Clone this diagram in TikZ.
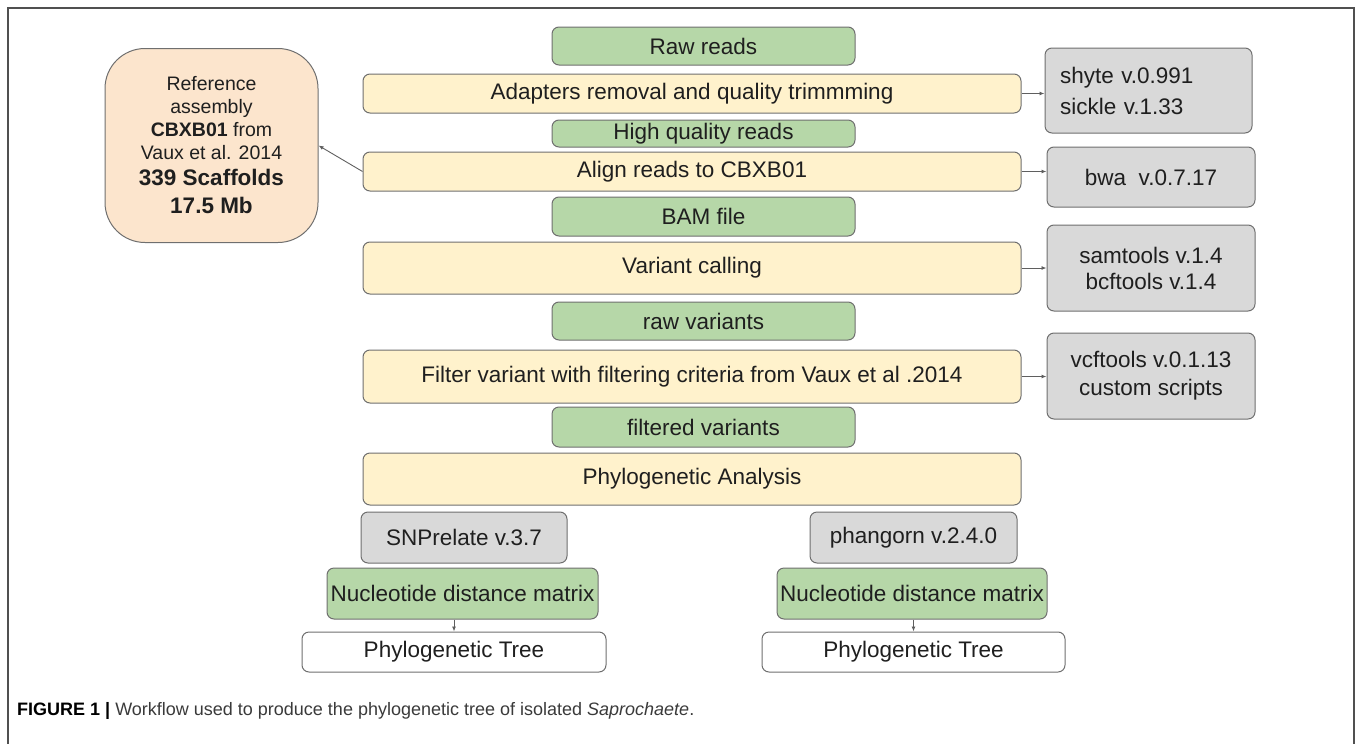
\documentclass[tikz,border=0pt]{standalone}
\usepackage{fontspec}
\setmainfont{Liberation Sans}
\usepackage{xcolor}
\usepackage{tikz}
\usetikzlibrary{arrows.meta}

\definecolor{datagreen}{HTML}{B6D7A8}
\definecolor{stepyellow}{HTML}{FFF2CC}
\definecolor{toolgray}{HTML}{D9D9D9}
\definecolor{refsalmon}{HTML}{FCE5CD}
\definecolor{boxline}{HTML}{6F6F6F}
\definecolor{arrowgray}{HTML}{5F5F5F}
\definecolor{framegray}{HTML}{505050}
\definecolor{captiongray}{HTML}{3A3A3A}

\begin{document}
\begin{tikzpicture}[x=1pt,y=-1pt,
		box/.style={draw=boxline,line width=1pt,rounded corners=7pt,inner sep=0pt,
			font=\fontsize{22.5}{27}\selectfont,text=black!88},
		data/.style={box,fill=datagreen,minimum width=303pt},
		stepbox/.style={box,fill=stepyellow,minimum width=658pt},
		tool/.style={box,fill=toolgray},
		link/.style={draw=arrowgray,line width=0.9pt,-{Latex[length=5pt,width=4pt]}}]
	\useasboundingbox (0,0) rectangle (1360,744);
	\draw[framegray,line width=1.5pt] (8,744) -- (8,8) -- (1354,8) -- (1354,744);

	% main column
	\node[data,minimum height=38pt] (raw) at (703.5,46) {Raw reads};
	\node[stepbox,minimum height=39pt] (adapt) at (692,93.5) {Adapters removal and quality trimmming};
	\node[data,minimum height=27pt] (hq) at (703.5,133.5) {High quality reads};
	\node[stepbox,minimum height=39pt] (align) at (692,171.5) {Align reads to CBXB01};
	\node[data,minimum height=39pt] (bam) at (703.5,216.5) {BAM file};
	\node[stepbox,minimum height=52pt] (call) at (692,268) {Variant calling};
	\node[data,minimum height=38pt] (rawvar) at (703.5,321) {raw variants};
	\node[stepbox,minimum height=53pt] (filter) at (692,376.5) {Filter variant with filtering criteria from Vaux et al .2014};
	\node[data,minimum height=40pt] (filtvar) at (703.5,427) {filtered variants};
	\node[stepbox,minimum height=52pt] (phylo) at (692,479) {Phylogenetic Analysis};

	% two branches
	\node[tool,minimum width=206pt,minimum height=51pt] (snp) at (464,537.5) {SNPrelate v.3.7};
	\node[box,fill=datagreen,minimum width=271pt,minimum height=51pt] (nucleft) at (462.5,593.5) {Nucleotide distance matrix};
	\node[box,fill=white,minimum width=304pt,minimum height=40pt] (treeleft) at (454,652) {Phylogenetic Tree};
	\node[tool,minimum width=207pt,minimum height=51pt] (phang) at (913.5,537.5) {phangorn v.2.4.0};
	\node[box,fill=datagreen,minimum width=270pt,minimum height=51pt] (nucright) at (912,593.5) {Nucleotide distance matrix};
	\node[box,fill=white,minimum width=303pt,minimum height=40pt] (treeright) at (913.5,652) {Phylogenetic Tree};

	% tools
	\node[tool,text width=177pt,inner xsep=15pt,minimum height=85pt,align=left,
		font=\fontsize{22.5}{31}\selectfont] (shyte) at (1148.5,90.5) {shyte v.0.991\\sickle v.1.33};
	\node[tool,minimum width=208pt,minimum height=60pt] (bwa) at (1151,177) {bwa\ \ v.0.7.17};
	\node[tool,minimum width=208pt,minimum height=86pt,align=center,
		font=\fontsize{22.5}{26}\selectfont] (samtools) at (1151,268) {samtools v.1.4\\bcftools v.1.4};
	\node[tool,minimum width=208pt,minimum height=86pt,align=center,
		font=\fontsize{22.5}{28}\selectfont] (vcf) at (1151,376) {vcftools v.0.1.13\\custom scripts};

	% reference
	\node[box,fill=refsalmon,rounded corners=40pt,minimum width=213pt,minimum height=194pt,align=center,
		font=\fontsize{19.5}{23}\selectfont] (ref) at (211.5,145.5) {Reference\\assembly\\\textbf{CBXB01} from\\Vaux et al. 2014\\[3pt]
		{\fontsize{22.5}{26}\selectfont\textbf{339 Scaffolds}}\\[5pt]{\fontsize{22.5}{26}\selectfont\textbf{17.5 Mb}}};

	\draw[link] (adapt.east) -- (adapt.east -| shyte.west);
	\draw[link] (align.east) -- (align.east -| bwa.west);
	\draw[link] (call.east) -- (samtools.west);
	\draw[link] (filter.east) -- (filter.east -| vcf.west);
	\draw[link] (align.west) -- (ref.east);
	\draw[link] (treeleft.north |- nucleft.south) -- (treeleft.north);
	\draw[link] (treeright.north |- nucright.south) -- (treeright.north);

	\node[anchor=west,inner sep=0pt,font=\fontsize{18}{21}\selectfont,text=captiongray] (caption) at (17,711)
		{{\color{black}\textbf{FIGURE 1 |}} Workflow used to produce the phylogenetic tree of isolated \textit{Saprochaete}.};
\end{tikzpicture}
\end{document}
